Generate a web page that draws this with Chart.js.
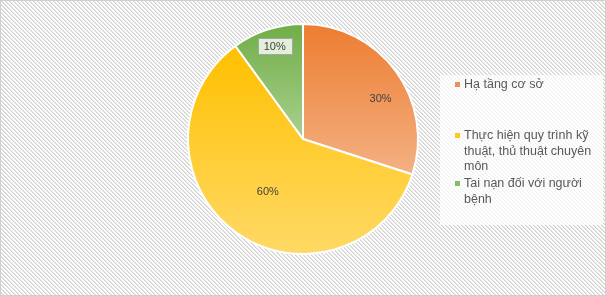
<!DOCTYPE html>
<html>
<head>
<meta charset="utf-8">
<script src="https://cdn.jsdelivr.net/npm/chart.js@4/dist/chart.umd.min.js"></script>
<style>
  html, body { margin: 0; padding: 0; background: #ffffff; }
  #wrap { position: relative; width: 606px; height: 296px; }
  canvas { display: block; }
</style>
</head>
<body>
<div id="wrap"><canvas id="c" width="606" height="296"></canvas></div>
<script>
// ---- data ----
const categories = ["Hạ tầng cơ sở", "Thực hiện quy trình kỹ thuật, thủ thuật chuyên môn", "Tai nạn đối với người bệnh"];
const legendLines = [["Hạ tầng cơ sở"], ["Thực hiện quy trình kỹ", "thuật, thủ thuật chuyên", "môn"], ["Tai nạn đối với người", "bệnh"]];
const values = [30, 60, 10];
const valueLabels = ["30%", "60%", "10%"];

// ---- styles ----
const gradTop = ["#ED7D31", "#FFC000", "#70AD47"];
const gradBottom = ["#F4B183", "#FFD966", "#A9D18E"];
const markerColors = ["#F09058", "#FFC820", "#86BB66"];
const labelPlace = [{r: 0.76, t: 0.58}, {r: 0.55, t: 0.49}, {r: 0.845, t: 0.53}];
const legendItemY = [85, 136, 184];
const FONT = '"Liberation Sans", Arial, sans-serif';

function sliceGradient(ctx) {
  const chart = ctx.chart;
  const area = chart.chartArea;
  const i = ctx.dataIndex;
  if (!area) return gradTop[i];
  const cx = (area.left + area.right) / 2;
  const cy = (area.top + area.bottom) / 2;
  const r = (Math.min(area.width, area.height) - 2) / 2;
  const total = values.reduce((a, b) => a + b, 0);
  let before = 0;
  for (let k = 0; k < i; k++) before += values[k];
  const a0 = before / total * 2 * Math.PI;
  const a1 = (before + values[i]) / total * 2 * Math.PI;
  const ys = [cy, cy - r * Math.cos(a0), cy - r * Math.cos(a1)];
  if (a0 <= 0 + 1e-9) ys.push(cy - r);
  if (a0 <= Math.PI && a1 >= Math.PI) ys.push(cy + r);
  const yTop = Math.min(...ys), yBot = Math.max(...ys);
  const g = chart.ctx.createLinearGradient(0, yTop, 0, yBot);
  g.addColorStop(0, gradTop[i]);
  g.addColorStop(1, gradBottom[i]);
  return g;
}

function makePattern(c2d) {
  const t = document.createElement('canvas');
  t.width = 4; t.height = 4;
  const p = t.getContext('2d');
  p.fillStyle = '#ffffff';
  p.fillRect(0, 0, 4, 4);
  for (let y = 0; y < 4; y++) {
    for (let x = 0; x < 4; x++) {
      const d = ((x - y) % 4 + 4) % 4;
      if (d === 0) { p.fillStyle = '#D2D2D2'; p.fillRect(x, y, 1, 1); }
      else if (d === 1) { p.fillStyle = '#E4E4E4'; p.fillRect(x, y, 1, 1); }
    }
  }
  return c2d.createPattern(t, 'repeat');
}

const bgPlugin = {
  id: 'bg',
  beforeDraw(chart) {
    const c = chart.ctx;
    c.save();
    c.fillStyle = makePattern(c);
    c.fillRect(0, 0, chart.width, chart.height);
    // legend panel
    c.fillStyle = 'rgba(255,255,255,0.72)';
    c.fillRect(440, 75, 163, 150);
    // outer border
    c.strokeStyle = '#D0D0D0';
    c.lineWidth = 1;
    c.strokeRect(0.5, 0.5, chart.width - 1, chart.height - 1);
    c.restore();
  }
};

const labelPlugin = {
  id: 'labels',
  afterDatasetsDraw(chart) {
    const c = chart.ctx;
    const meta = chart.getDatasetMeta(0);
    c.save();
    c.font = '11px ' + FONT;
    c.textAlign = 'center';
    c.textBaseline = 'middle';
    meta.data.forEach((arc, i) => {
      const p = arc.getProps(['x', 'y', 'startAngle', 'endAngle', 'outerRadius'], true);
      const ang = p.startAngle + (p.endAngle - p.startAngle) * labelPlace[i].t;
      const rr = p.outerRadius * labelPlace[i].r;
      const x = p.x + Math.cos(ang) * rr;
      const y = p.y + Math.sin(ang) * rr;
      if (i === 2) {
        const w = 34, h = 16;
        c.fillStyle = '#E2EFDA';
        c.fillRect(Math.round(x - w / 2) + 0.5, Math.round(y - h / 2) + 0.5, w, h);
        c.strokeStyle = '#A6A6A6';
        c.lineWidth = 1;
        c.strokeRect(Math.round(x - w / 2) + 0.5, Math.round(y - h / 2) + 0.5, w, h);
      }
      c.fillStyle = '#404040';
      c.fillText(valueLabels[i], x, y + 0.5);
    });
    c.restore();
  }
};

const legendPlugin = {
  id: 'customLegend',
  afterDraw(chart) {
    const c = chart.ctx;
    c.save();
    c.font = '12.5px ' + FONT;
    c.textAlign = 'left';
    c.textBaseline = 'middle';
    legendLines.forEach((lines, i) => {
      const y0 = legendItemY[i];
      c.fillStyle = markerColors[i];
      c.fillRect(455, y0 - 3, 5, 5);
      c.fillStyle = '#595959';
      lines.forEach((ln, j) => c.fillText(ln, 464, y0 + j * 15.5));
    });
    c.restore();
  }
};

new Chart(document.getElementById('c'), {
  type: 'pie',
  data: {
    labels: categories,
    datasets: [{
      data: values,
      backgroundColor: sliceGradient,
      borderColor: '#ffffff',
      borderWidth: 2
    }]
  },
  options: {
    responsive: false,
    animation: false,
    devicePixelRatio: 1,
    layout: { padding: { top: 23, bottom: 41, left: 0, right: 0 } },
    plugins: {
      legend: { display: false },
      tooltip: { enabled: false }
    }
  },
  plugins: [bgPlugin, labelPlugin, legendPlugin]
});
</script>
</body>
</html>
